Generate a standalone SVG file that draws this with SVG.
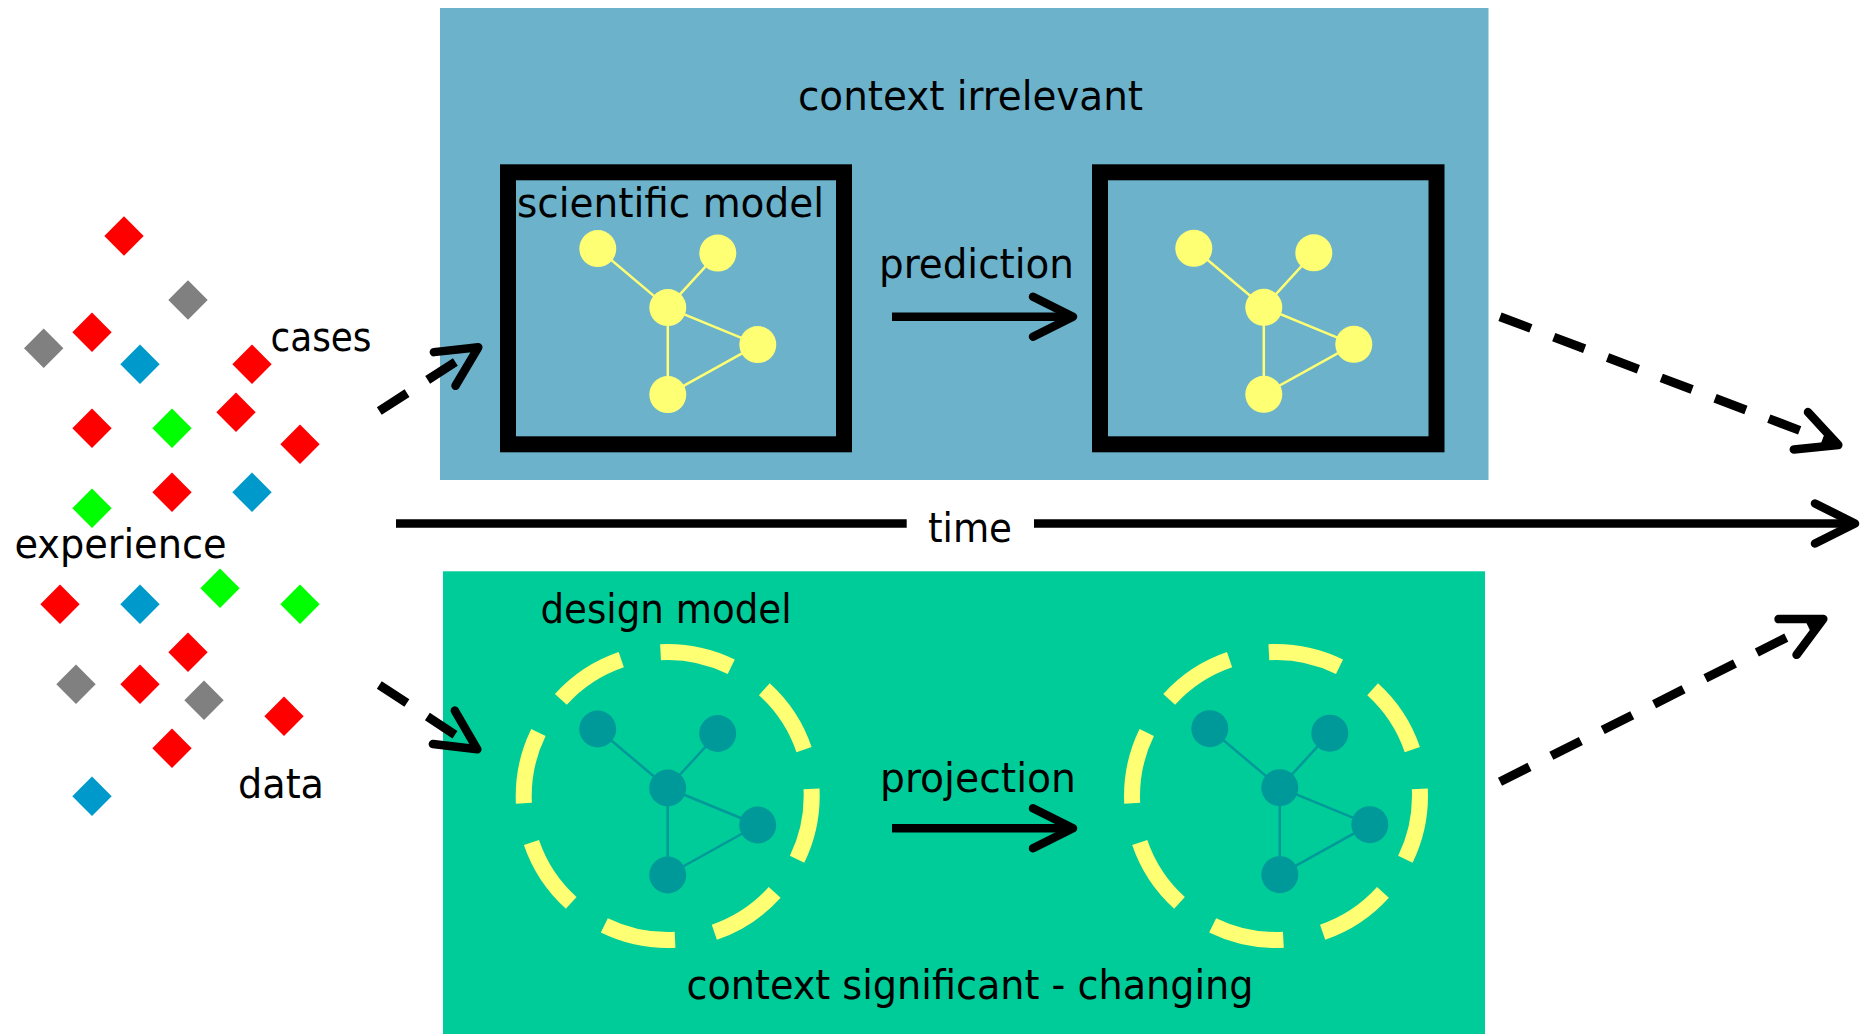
<svg xmlns="http://www.w3.org/2000/svg" xmlns:xlink="http://www.w3.org/1999/xlink" width="1865" height="1034" viewBox="0 0 1865 1034">
<style>
  text { font-family: "DejaVu Sans Condensed", "DejaVu Sans", sans-serif; font-size: 40px; fill: #000; }
  .frame { fill: none; stroke: #000; stroke-width: 16; }
  .ring { fill: none; stroke: #ffff73; stroke-width: 16; stroke-dasharray: 73 40.1; stroke-dashoffset: 7.5; }
  .solid { fill: none; stroke: #000; stroke-width: 8.5; }
  .dashed { fill: none; stroke: #000; stroke-width: 9; stroke-dasharray: 33 24.5; }
  .red { fill: #ff0000; } .gray { fill: #808080; } .blue { fill: #0099cc; } .green { fill: #00ff00; }
</style>
<defs>
  <marker id="chev" markerUnits="userSpaceOnUse" viewBox="-50 -30 60 60" markerWidth="60" markerHeight="60" refX="0" refY="0" orient="auto" overflow="visible">
    <path d="M-40,-20 L0,0 L-40,20" fill="none" stroke="#000" stroke-width="8.5" stroke-linecap="round" stroke-linejoin="round"/>
  </marker>
  <path id="dm" d="M0,-19.7 L19.7,0 L0,19.7 L-19.7,0 Z"/>
  <g id="net">
    <path d="M0,0 L-70,-59 M0,0 L50,-54.5 M0,0 L90,37 M0,0 L0,87 M0,87 L90,37" fill="none" stroke="currentColor" stroke-width="2.5"/>
    <circle cx="0" cy="0" r="18.5" fill="currentColor"/>
    <circle cx="-70" cy="-59" r="18.5" fill="currentColor"/>
    <circle cx="50" cy="-54.5" r="18.5" fill="currentColor"/>
    <circle cx="90" cy="37" r="18.5" fill="currentColor"/>
    <circle cx="0" cy="87" r="18.5" fill="currentColor"/>
  </g>
</defs>
<rect width="1865" height="1034" fill="#fff"/>

<g id="context-irrelevant">
  <rect x="440" y="8" width="1048.5" height="472" fill="#6cb2cb"/>
  <text x="798" y="110" textLength="345" lengthAdjust="spacingAndGlyphs">context irrelevant</text>
</g>

<g id="context-significant">
  <rect x="443" y="571.3" width="1042" height="463" fill="#00cc99"/>
  <text x="686.5" y="999.3" textLength="567" lengthAdjust="spacingAndGlyphs">context significant - changing</text>
</g>

<g id="scientific-model">
  <rect class="frame" x="508" y="172.3" width="336" height="272"/>
  <text x="517" y="216.7" textLength="307" lengthAdjust="spacingAndGlyphs">scientific model</text>
  <use href="#net" xlink:href="#net" transform="translate(667.8,307.6)" color="#ffff73"/>
</g>

<g id="predicted-model">
  <rect class="frame" x="1100" y="172.3" width="336.5" height="272"/>
  <use href="#net" xlink:href="#net" transform="translate(1263.8,307.3)" color="#ffff73"/>
</g>

<g id="design-model">
  <circle class="ring" cx="667.7" cy="796" r="144"/>
  <text x="540.5" y="622.7" textLength="251" lengthAdjust="spacingAndGlyphs">design model</text>
  <use href="#net" xlink:href="#net" transform="translate(667.7,788)" color="#009999"/>
</g>

<g id="projected-model">
  <circle class="ring" cx="1276" cy="796" r="144"/>
  <use href="#net" xlink:href="#net" transform="translate(1279.8,787.7)" color="#009999"/>
</g>

<g id="experience">
  <use href="#dm" xlink:href="#dm" class="red" x="124" y="236"/>
  <use href="#dm" xlink:href="#dm" class="gray" x="188" y="300"/>
  <use href="#dm" xlink:href="#dm" class="red" x="92" y="332.3"/>
  <use href="#dm" xlink:href="#dm" class="gray" x="43.7" y="348.3"/>
  <use href="#dm" xlink:href="#dm" class="blue" x="140" y="364.3"/>
  <use href="#dm" xlink:href="#dm" class="red" x="252" y="364.3"/>
  <use href="#dm" xlink:href="#dm" class="red" x="236" y="412.3"/>
  <use href="#dm" xlink:href="#dm" class="red" x="92" y="428.3"/>
  <use href="#dm" xlink:href="#dm" class="green" x="172" y="428.3"/>
  <use href="#dm" xlink:href="#dm" class="red" x="300" y="444.3"/>
  <use href="#dm" xlink:href="#dm" class="red" x="172" y="492.3"/>
  <use href="#dm" xlink:href="#dm" class="blue" x="252" y="492.3"/>
  <use href="#dm" xlink:href="#dm" class="green" x="92" y="508.3"/>
  <use href="#dm" xlink:href="#dm" class="green" x="220" y="588.3"/>
  <use href="#dm" xlink:href="#dm" class="red" x="60" y="604.3"/>
  <use href="#dm" xlink:href="#dm" class="blue" x="140" y="604.3"/>
  <use href="#dm" xlink:href="#dm" class="green" x="300" y="604.3"/>
  <use href="#dm" xlink:href="#dm" class="red" x="188" y="652.3"/>
  <use href="#dm" xlink:href="#dm" class="gray" x="76" y="684.3"/>
  <use href="#dm" xlink:href="#dm" class="red" x="140" y="684.3"/>
  <use href="#dm" xlink:href="#dm" class="gray" x="204" y="700.3"/>
  <use href="#dm" xlink:href="#dm" class="red" x="284" y="716.3"/>
  <use href="#dm" xlink:href="#dm" class="red" x="172" y="748.3"/>
  <use href="#dm" xlink:href="#dm" class="blue" x="92" y="796.3"/>
  <text x="270.5" y="350.7" textLength="101" lengthAdjust="spacingAndGlyphs">cases</text>
  <text x="14.5" y="558.3" textLength="212" lengthAdjust="spacingAndGlyphs">experience</text>
  <text x="238" y="798.3" textLength="86" lengthAdjust="spacingAndGlyphs">data</text>
</g>

<g id="connectors">
  <path class="dashed" d="M379.3,411 L478.3,347.3" marker-end="url(#chev)"/>
  <path class="dashed" d="M379.3,685 L477.3,749.3" marker-end="url(#chev)"/>
  <path class="solid" d="M892,316.7 L1073,316.7" marker-end="url(#chev)"/>
  <text x="879" y="278" textLength="195" lengthAdjust="spacingAndGlyphs">prediction</text>
  <path class="solid" d="M892,828.3 L1073,828.3" marker-end="url(#chev)"/>
  <text x="880" y="791.7" textLength="196" lengthAdjust="spacingAndGlyphs">projection</text>
  <path class="solid" d="M396,523.5 L906.7,523.5 M1034,523.5 L1855,523.5" marker-end="url(#chev)"/>
  <text x="928" y="542.3" textLength="84" lengthAdjust="spacingAndGlyphs">time</text>
  <path class="dashed" d="M1500,316.7 L1838.3,445" marker-end="url(#chev)"/>
  <path class="dashed" d="M1500,781.7 L1823.3,619" marker-end="url(#chev)"/>
</g>
</svg>
